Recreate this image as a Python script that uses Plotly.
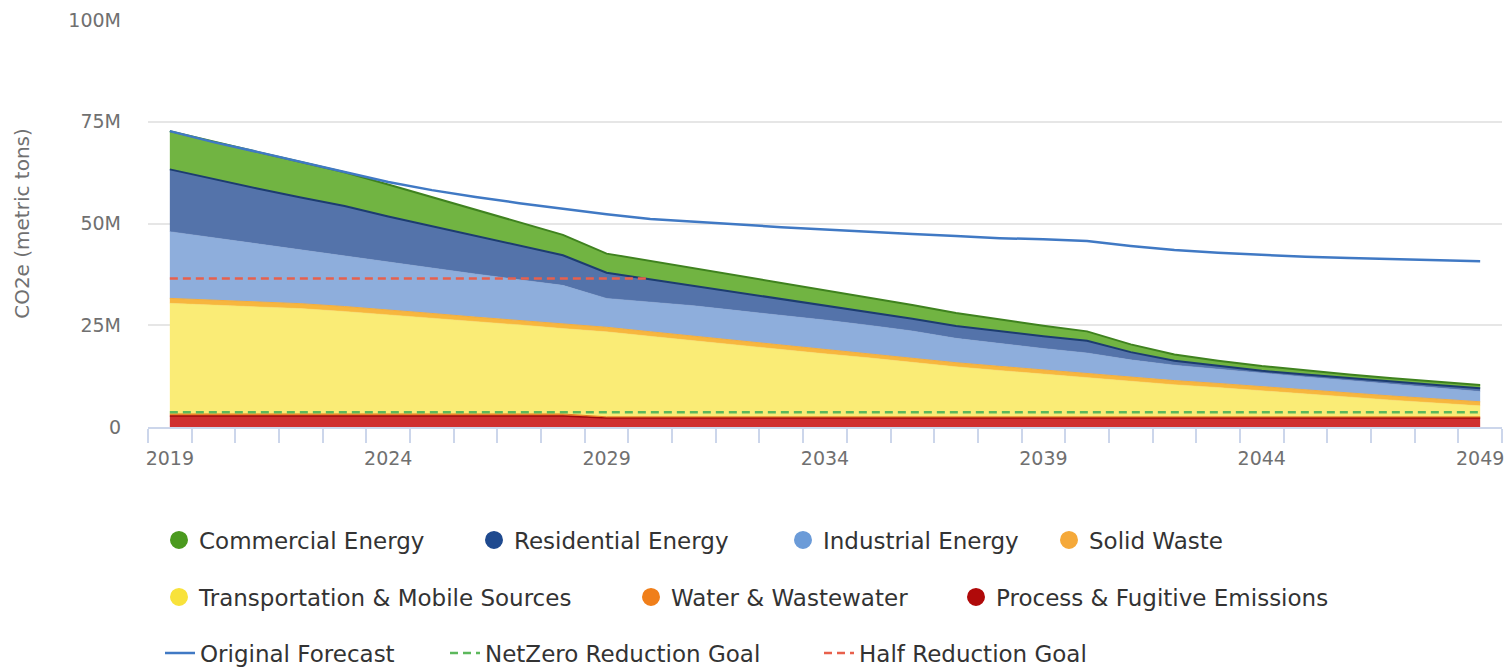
import plotly.graph_objects as go

years = list(range(2019, 2050))

commercial = [9.4, 9.2, 9.0, 8.7, 8.3, 7.9, 7.2, 6.5, 5.8, 5.0, 4.7, 4.5, 4.3, 4.1, 3.9, 3.7,
              3.5, 3.4, 3.2, 2.9, 2.6, 2.3, 1.9, 1.5, 1.3, 1.2, 1.0, 0.9, 0.9, 0.8, 0.8]
residential = [15.3, 14.4, 13.6, 12.9, 12.3, 11.1, 10.2, 9.3, 8.3, 7.4, 6.3, 5.6, 4.9, 4.5, 3.9, 3.5,
               3.2, 3.0, 3.0, 3.0, 3.0, 3.0, 1.9, 1.1, 0.8, 0.6, 0.6, 0.6, 0.6, 0.7, 0.8]
industrial = [16.4, 15.3, 14.2, 13.2, 12.4, 11.8, 11.2, 10.6, 10.0, 9.5, 7.1, 7.3, 7.5, 7.4, 7.3, 7.2,
              7.0, 6.7, 6.0, 5.6, 5.3, 5.0, 4.2, 3.8, 3.5, 3.3, 3.2, 3.0, 2.9, 2.7, 2.5]
solid_waste = [1.2, 1.2, 1.2, 1.2, 1.2, 1.2, 1.1, 1.1, 1.1, 1.1, 1.1, 1.1, 1.1, 1.1, 1.1, 1.1,
               1.0, 1.0, 1.0, 1.0, 1.0, 1.0, 1.0, 1.0, 1.0, 1.0, 1.0, 1.0, 1.0, 1.0, 1.0]
transportation = [27.2, 26.8, 26.4, 25.9, 25.2, 24.4, 23.6, 22.7, 21.9, 21.0, 20.9, 19.8, 18.7, 17.6,
                  16.6, 15.5, 14.5, 13.4, 12.3, 11.4, 10.5, 9.7, 8.8, 7.9, 7.2, 6.4, 5.6, 4.9, 4.1, 3.4, 2.7]
water = [0.5, 0.5, 0.5, 0.5, 0.5, 0.5, 0.5, 0.5, 0.5, 0.5, 0.3, 0.3, 0.3, 0.3, 0.3, 0.3,
         0.3, 0.3, 0.3, 0.3, 0.3, 0.3, 0.3, 0.3, 0.3, 0.3, 0.3, 0.3, 0.3, 0.3, 0.3]
process = [2.7, 2.7, 2.7, 2.7, 2.7, 2.7, 2.7, 2.7, 2.7, 2.7, 2.2, 2.2, 2.2, 2.2, 2.2, 2.2,
           2.2, 2.2, 2.2, 2.2, 2.2, 2.2, 2.2, 2.2, 2.2, 2.2, 2.2, 2.2, 2.2, 2.2, 2.2]

forecast = [72.7, 70.0, 67.6, 65.1, 62.7, 60.2, 58.2, 56.5, 55.0, 53.6, 52.3, 51.1, 50.4, 49.8, 49.1,
            48.5, 47.9, 47.4, 46.9, 46.4, 46.1, 45.7, 44.5, 43.5, 42.8, 42.3, 41.8, 41.5, 41.2, 40.9, 40.7]
netzero_goal = [3.6] * 31
half_goal_years = list(range(2019, 2031))
half_goal = [36.5] * 12

y_tickvals = [0, 25, 50, 75, 100]
y_ticktext = ["0", "25M", "50M", "75M", "100M"]
x_tickvals = [2019, 2024, 2029, 2034, 2039, 2044, 2049]

FONT = "DejaVu Sans"

# stacked areas: bottom to top
areas = [
    ("Process & Fugitive Emissions", process, "rgba(206,36,36,0.95)", "#9e0b0b", 1.5),
    ("Water & Wastewater", water, "rgba(240,128,32,0.9)", "#e87a1c", 1),
    ("Transportation & Mobile Sources", transportation, "rgba(250,236,118,1)", "#f6e36a", 0.5),
    ("Solid Waste", solid_waste, "rgba(247,182,62,1)", "#f5ad3a", 1),
    ("Industrial Energy", industrial, "rgba(142,174,220,1)", "#88a9d8", 0.5),
    ("Residential Energy", residential, "rgba(84,115,170,1)", "#1c3c70", 2),
    ("Commercial Energy", commercial, "rgba(113,180,66,1)", "#3f821f", 2),
]

fig = go.Figure()
for name, vals, fill, lc, lw in areas:
    fig.add_trace(go.Scatter(
        x=years, y=vals, name=name, stackgroup="one", mode="lines",
        line=dict(color=lc, width=lw), fillcolor=fill, showlegend=False,
        hoverinfo="x+y+name",
    ))

fig.add_trace(go.Scatter(x=years, y=forecast, name="Original Forecast", mode="lines",
                         line=dict(color="#4079c4", width=2.5), legend="legend8"))
fig.add_trace(go.Scatter(x=years, y=netzero_goal, name="NetZero Reduction Goal", mode="lines",
                         line=dict(color="#5cb85c", width=2.5, dash="8px,5px"), legend="legend9"))
fig.add_trace(go.Scatter(x=half_goal_years, y=half_goal, name="Half Reduction Goal", mode="lines",
                         line=dict(color="#e8604c", width=2.5, dash="8px,5px"), legend="legend10"))

# legend entries with circle markers
legend_markers = [
    ("Commercial Energy", "#4b9a1f", "legend"),
    ("Residential Energy", "#1f4a8f", "legend2"),
    ("Industrial Energy", "#6b9bd8", "legend3"),
    ("Solid Waste", "#f5a93a", "legend4"),
    ("Transportation & Mobile Sources", "#f8e23b", "legend5"),
    ("Water & Wastewater", "#f07f1a", "legend6"),
    ("Process & Fugitive Emissions", "#b00a0a", "legend7"),
]
for name, col, lg in legend_markers:
    fig.add_trace(go.Scatter(x=[None], y=[None], name=name, mode="markers",
                             marker=dict(symbol="circle", size=16, color=col, line=dict(color=col, width=2)),
                             legend=lg))

W, H = 1511, 667
leg_pos = {
    "legend": (184, 540), "legend2": (499, 540), "legend3": (808, 540), "legend4": (1074, 540),
    "legend5": (184, 597), "legend6": (656, 597), "legend7": (981, 597),
    "legend8": (185, 653), "legend9": (470, 653), "legend10": (844, 653),
}
legend_layout = {}
for key, (cx, cy) in leg_pos.items():
    legend_layout[key] = dict(
        x=(cx - 25) / W, y=1 - cy / H, xref="container", yref="container",
        xanchor="left", yanchor="middle", orientation="h",
        font=dict(family=FONT, size=23, color="#333333"),
        bgcolor="rgba(0,0,0,0)", borderwidth=0, itemclick=False, itemdoubleclick=False,
    )

fig.update_layout(
    width=W, height=H,
    margin=dict(l=148, r=9, t=20, b=240, autoexpand=False),
    paper_bgcolor="white", plot_bgcolor="white",
    font=dict(family=FONT, color="#666666"),
    showlegend=True,
    **legend_layout,
)

fig.update_xaxes(
    range=[2018.5, 2049.5], tickvals=x_tickvals, ticktext=[str(v) for v in x_tickvals],
    ticks="outside", ticklen=1, tickcolor="rgba(0,0,0,0)", ticklabelstandoff=12,
    tickfont=dict(family=FONT, size=19, color="#707070"),
    showgrid=False, zeroline=False,
    showline=True, linecolor="#ccd6eb", linewidth=1.5,
    minor=dict(tick0=2018.5, dtick=1, ticks="outside", ticklen=14, tickcolor="#ccd6eb", tickwidth=1.5, showgrid=False),
)
fig.update_yaxes(
    range=[0, 100], tickvals=y_tickvals, ticktext=y_ticktext,
    tickfont=dict(family=FONT, size=19, color="#707070"), ticklabelstandoff=26,
    showgrid=True, gridcolor="#e6e6e6", gridwidth=1.5, zeroline=False, showline=False,
    title=dict(text="CO2e (metric tons)", font=dict(family=FONT, size=20, color="#707070"), standoff=33),
)

fig.write_html("out.html", config={"displayModeBar": False},
               post_script="document.body.style.margin='0';document.body.style.overflow='hidden';")
